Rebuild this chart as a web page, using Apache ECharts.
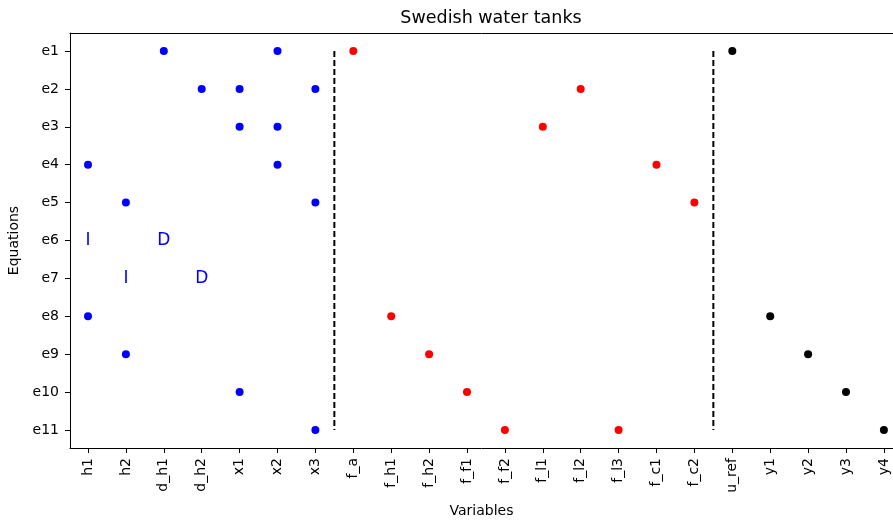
<!DOCTYPE html>
<html>
<head>
<meta charset="utf-8">
<script src="https://cdn.jsdelivr.net/npm/echarts@6/dist/echarts.min.js"></script>
<style>
  html, body { margin: 0; padding: 0; background: #fff; }
  #chart { width: 893px; height: 520px; }
</style>
</head>
<body>
<div id="chart"></div>
<script>
// Structural incidence of the water tank model: variables vs equations
const variables = ['h1', 'h2', 'd_h1', 'd_h2', 'x1', 'x2', 'x3', 'f_a', 'f_h1', 'f_h2', 'f_f1', 'f_f2',
  'f_l1', 'f_l2', 'f_l3', 'f_c1', 'f_c2', 'u_ref', 'y1', 'y2', 'y3', 'y4'];
const equations = ['e1', 'e2', 'e3', 'e4', 'e5', 'e6', 'e7', 'e8', 'e9', 'e10', 'e11'];

// Unknown variables (blue)
const unknownCells = [
  ['d_h1', 'e1'], ['x2', 'e1'],
  ['d_h2', 'e2'], ['x1', 'e2'], ['x3', 'e2'],
  ['x1', 'e3'], ['x2', 'e3'],
  ['h1', 'e4'], ['x2', 'e4'],
  ['h2', 'e5'], ['x3', 'e5'],
  ['h1', 'e8'], ['h2', 'e9'], ['x1', 'e10'], ['x3', 'e11']
];
// Fault variables (red)
const faultCells = [
  ['f_a', 'e1'], ['f_l2', 'e2'], ['f_l1', 'e3'], ['f_c1', 'e4'], ['f_c2', 'e5'],
  ['f_h1', 'e8'], ['f_h2', 'e9'], ['f_f1', 'e10'], ['f_f2', 'e11'], ['f_l3', 'e11']
];
// Known variables (black)
const knownCells = [
  ['u_ref', 'e1'], ['y1', 'e8'], ['y2', 'e9'], ['y3', 'e10'], ['y4', 'e11']
];
// Integral / derivative markers
const diffMarks = [
  ['h1', 'e6', 'I'], ['d_h1', 'e6', 'D'],
  ['h2', 'e7', 'I'], ['d_h2', 'e7', 'D']
];
// Separators between variable groups (between x3|f_a and f_c2|u_ref)
const separators = [6.5, 16.5];

const vIdx = n => variables.indexOf(n);
const eIdx = n => equations.indexOf(n);
const toPts = cells => cells.map(c => [vIdx(c[0]), eIdx(c[1])]);

const font = 'DejaVu Sans, sans-serif';
const varTicks = variables.map((_, i) => i);
const eqTicks = equations.map((_, i) => i);
const X_MIN = -0.475, X_MAX = 21.24;

const dotSeries = (data, color) => ({
  type: 'scatter', data: toPts(data), symbol: 'circle', symbolSize: 8,
  itemStyle: { color: color, opacity: 1 }, silent: true, z: 3
});

const chart = echarts.init(document.getElementById('chart'), null, { renderer: 'canvas' });
chart.setOption({
  animation: false,
  backgroundColor: '#ffffff',
  title: {
    text: 'Swedish water tanks', left: 486, top: 4, textAlign: 'center',
    textStyle: { fontFamily: font, fontSize: 17.5, fontWeight: 'normal', color: '#000' }
  },
  grid: { left: 70, top: 33, right: 0, bottom: 72, containLabel: false, outerBoundsMode: 'none' },
  xAxis: [{
    type: 'value', min: X_MIN, max: X_MAX,
    name: 'Variables', nameLocation: 'middle', nameGap: 56,
    nameTextStyle: { fontFamily: font, fontSize: 14, color: '#000' },
    splitLine: { show: false },
    axisLine: { show: true, onZero: false, lineStyle: { color: '#000', width: 1 } },
    axisTick: { show: true, customValues: varTicks, length: 5, lineStyle: { color: '#000' } },
    axisLabel: {
      customValues: varTicks, rotate: 90, margin: 10,
      fontFamily: font, fontSize: 14, color: '#000',
      formatter: v => variables[Math.round(v)] || ''
    }
  }, {
    // top frame line only
    type: 'value', position: 'top', min: X_MIN, max: X_MAX,
    splitLine: { show: false }, axisTick: { show: false }, axisLabel: { show: false },
    axisLine: { show: true, onZero: false, lineStyle: { color: '#000', width: 1 } }
  }],
  yAxis: {
    type: 'value', inverse: true, min: -0.475, max: 10.475,
    name: 'Equations', nameLocation: 'middle', nameGap: 47, nameRotate: 90,
    nameTextStyle: { fontFamily: font, fontSize: 14, color: '#000' },
    splitLine: { show: false },
    axisLine: { show: true, onZero: false, lineStyle: { color: '#000', width: 1 } },
    axisTick: { show: true, customValues: eqTicks, length: 5, lineStyle: { color: '#000' } },
    axisLabel: {
      customValues: eqTicks, margin: 11,
      fontFamily: font, fontSize: 14, color: '#000',
      formatter: v => equations[Math.round(v)] || ''
    }
  },
  series: [
    dotSeries(unknownCells, '#0000ff'),
    dotSeries(faultCells, '#ff0000'),
    dotSeries(knownCells, '#000000'),
    {
      type: 'scatter', symbol: 'rect', symbolSize: 1,
      itemStyle: { color: 'rgba(0,0,0,0)', opacity: 1 }, silent: true, z: 4,
      data: diffMarks.map(m => ({ value: [vIdx(m[0]), eIdx(m[1])], name: m[2] })),
      label: {
        show: true, position: 'inside', formatter: p => p.name, opacity: 1,
        fontFamily: font, fontSize: 17, color: '#0000ff'
      }
    },
    ...separators.map(x => ({
      type: 'line', data: [[x, 0], [x, equations.length - 1]],
      symbol: 'none', silent: true,
      lineStyle: { color: '#000', width: 2, type: [6, 3] }
    }))
  ]
});
</script>
</body>
</html>
